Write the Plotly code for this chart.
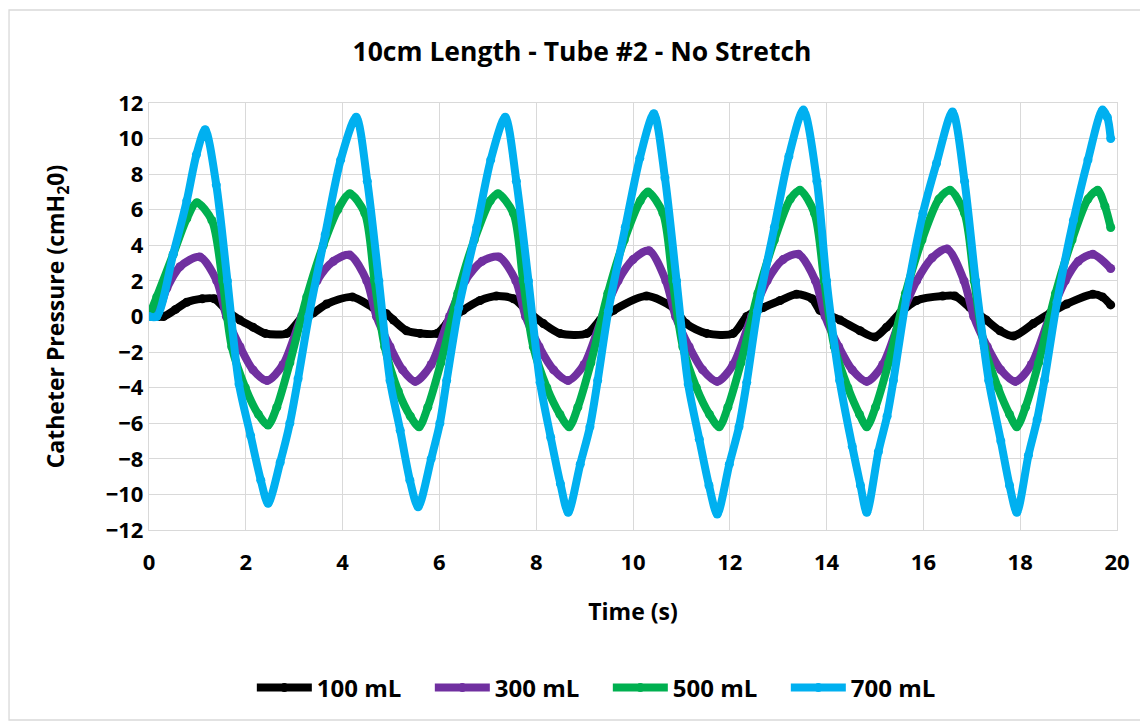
import plotly.graph_objects as go

# ---- data ----
series_names = ["100 mL", "300 mL", "500 mL", "700 mL"]
series_colors = ["#000000", "#7030A0", "#00B050", "#00B0F0"]

t_100 = [0.00, 0.30, 0.55, 0.78, 1.10, 1.35, 1.60, 1.88, 2.15, 2.40, 2.85, 3.12, 3.40, 3.67, 4.20,
         4.63, 4.91, 5.05, 5.32, 5.60, 5.95, 6.15, 6.49, 6.84, 7.18, 7.53, 7.80, 8.15, 8.49, 9.05,
         9.32, 9.60, 10.28, 10.83, 11.10, 11.52, 12.07, 12.35, 12.69, 13.04, 13.38, 13.70, 13.86,
         14.28, 14.69, 15.00, 15.24, 15.52, 15.86, 16.40, 16.65, 16.96, 17.30, 17.58, 17.86, 18.27,
         18.62, 18.96, 19.50, 19.70, 19.87]
p_100 = [0.0, 0.0, 0.4, 0.8, 1.0, 1.0, 0.35, -0.2, -0.6, -0.95, -0.95, -0.2, 0.2, 0.7, 1.1,
         0.5, 0.15, -0.2, -0.8, -0.95, -0.95, -0.4, 0.35, 0.9, 1.15, 1.0, 0.35, -0.4, -0.95, -0.95,
         -0.2, 0.35, 1.15, 0.5, -0.4, -0.95, -0.95, 0.0, 0.5, 0.9, 1.25, 1.0, 0.35,
         -0.2, -0.8, -1.15, -0.6, 0.2, 0.9, 1.15, 1.15, 0.5, -0.2, -0.8, -1.1, -0.4,
         0.2, 0.7, 1.25, 1.1, 0.65]

t_300 = [0.00, 0.16, 0.37, 0.64, 1.05, 1.40, 1.60, 1.88, 2.15, 2.44, 2.77, 3.15, 3.47, 3.81, 4.15,
         4.50, 4.70, 4.98, 5.24, 5.50, 5.83, 6.21, 6.53, 6.88, 7.23, 7.58, 7.78, 8.06, 8.36, 8.66,
         8.99, 9.37, 9.69, 10.00, 10.33, 10.68, 10.88, 11.16, 11.44, 11.74, 12.07, 12.45, 12.77,
         13.10, 13.42, 13.77, 13.97, 14.25, 14.53, 14.83, 15.16, 15.54, 15.86, 16.18, 16.49, 16.84,
         17.04, 17.32, 17.60, 17.90, 18.23, 18.61, 18.93, 19.20, 19.50, 19.87]
p_300 = [0.0, 0.1, 1.6, 2.8, 3.35, 2.0, 0.0, -1.7, -3.0, -3.6, -2.7, 0.0, 2.0, 3.1, 3.45,
         2.0, 0.0, -1.7, -3.0, -3.65, -2.7, 0.0, 2.0, 3.1, 3.35, 2.0, 0.0, -1.7, -3.0, -3.6,
         -2.7, 0.0, 2.0, 3.2, 3.7, 2.0, 0.0, -1.7, -3.0, -3.65, -2.7, 0.0, 2.0,
         3.2, 3.5, 2.0, 0.0, -1.7, -3.0, -3.65, -2.7, 0.0, 2.0, 3.3, 3.8, 2.0,
         0.0, -1.7, -3.0, -3.65, -2.7, 0.0, 2.0, 3.1, 3.5, 2.7]

t_500 = [0.00, 0.16, 0.50, 0.78, 0.99, 1.30, 1.52, 1.71, 1.99, 2.26, 2.46, 2.64, 2.91, 3.26, 3.60,
         3.90, 4.15, 4.46, 4.66, 4.87, 5.15, 5.40, 5.58, 5.76, 6.03, 6.38, 6.72, 7.05, 7.21, 7.53,
         7.73, 7.94, 8.22, 8.49, 8.68, 8.86, 9.13, 9.48, 9.82, 10.15, 10.31, 10.62, 10.82, 11.03,
         11.31, 11.58, 11.78, 11.96, 12.23, 12.58, 12.92, 13.25, 13.45, 13.75, 13.95, 14.16, 14.44,
         14.68, 14.83, 15.01, 15.28, 15.63, 15.97, 16.32, 16.55, 16.85, 17.05, 17.26, 17.54, 17.78,
         17.93, 18.11, 18.38, 18.73, 19.07, 19.40, 19.60, 19.75, 19.87]
p_500 = [0.0, 1.1, 3.5, 5.5, 6.4, 5.4, 2.0, -1.7, -4.0, -5.5, -6.1, -5.1, -2.6, 1.1, 4.0,
         6.0, 6.9, 5.8, 2.0, -1.7, -4.2, -5.6, -6.2, -5.1, -2.6, 1.3, 4.3, 6.5, 6.9, 5.8,
         2.0, -1.7, -4.0, -5.5, -6.2, -5.1, -2.6, 1.3, 4.3, 6.5, 7.0, 5.8, 2.0, -1.7,
         -4.0, -5.5, -6.2, -5.1, -2.6, 1.3, 4.3, 6.6, 7.1, 5.8, 2.0, -1.7, -4.0,
         -5.5, -6.2, -5.1, -2.6, 1.3, 4.3, 6.6, 7.1, 5.8, 2.0, -1.7, -4.0, -5.5,
         -6.2, -5.1, -2.6, 1.3, 4.3, 6.6, 7.1, 6.2, 5.0]

t_700 = [0.00, 0.16, 0.50, 0.78, 0.98, 1.16, 1.39, 1.62, 1.86, 2.10, 2.31, 2.46, 2.71, 2.91, 3.08,
         3.30, 3.64, 3.96, 4.28, 4.51, 4.75, 4.98, 5.19, 5.39, 5.56, 5.83, 6.01, 6.15, 6.40, 6.77,
         7.06, 7.36, 7.59, 7.84, 8.08, 8.30, 8.50, 8.66, 8.91, 9.11, 9.27, 9.49, 9.84, 10.14,
         10.43, 10.66, 10.90, 11.14, 11.37, 11.57, 11.74, 11.99, 12.19, 12.35, 12.57, 12.92, 13.22,
         13.52, 13.80, 14.00, 14.27, 14.53, 14.70, 14.83, 15.07, 15.25, 15.38, 15.65, 15.99, 16.27,
         16.60, 16.85, 17.08, 17.35, 17.60, 17.78, 17.93, 18.17, 18.35, 18.50, 18.76, 19.10, 19.40,
         19.70, 19.80, 19.87]
p_700 = [0.0, 0.0, 3.5, 6.5, 9.1, 10.5, 7.4, 2.0, -3.8, -6.7, -9.2, -10.5, -8.2, -6.0, -3.5,
         0.0, 4.6, 8.8, 11.2, 7.6, 2.0, -3.6, -6.4, -9.2, -10.7, -8.0, -6.0, -3.6, 0.5, 5.0,
         8.8, 11.2, 7.6, 2.0, -3.7, -6.8, -9.4, -11.0, -8.3, -6.2, -3.6, 0.3, 5.0, 8.9,
         11.4, 7.8, 2.0, -3.8, -6.9, -9.5, -11.1, -8.3, -6.2, -3.7, 0.3, 5.0, 9.0,
         11.6, 7.6, 2.0, -3.6, -7.3, -9.5, -11.0, -7.6, -5.6, -3.6, 1.1, 5.8, 8.6,
         11.5, 7.6, 2.0, -3.6, -7.0, -9.5, -11.0, -7.8, -5.8, -3.6, 0.8, 5.4, 8.8,
         11.6, 11.2, 10.0]

x_ticks = [0, 2, 4, 6, 8, 10, 12, 14, 16, 18, 20]
y_ticks = [-12, -10, -8, -6, -4, -2, 0, 2, 4, 6, 8, 10, 12]

title_text = "10cm Length - Tube #2 - No Stretch"
x_title = "Time (s)"
y_title = "Catheter Pressure (cmH<sub>2</sub>0)"

# ---- figure ----
FONT = "Open Sans"
BLACK = "#000000"
fig = go.Figure()
for name, color, t, p in zip(series_names, series_colors,
                             [t_100, t_300, t_500, t_700],
                             [p_100, p_300, p_500, p_700]):
    fig.add_trace(go.Scatter(
        x=t, y=p, name=name, mode="lines+markers",
        line=dict(color=color, width=8, shape="spline", smoothing=0.8),
        marker=dict(color=color, size=9),
    ))

axis_common = dict(
    showgrid=True, gridcolor="#d9d9d9", gridwidth=1.3,
    showline=True, linecolor="#d9d9d9", linewidth=1.3, mirror=True,
    zeroline=False, ticks="",
    tickfont=dict(family=FONT, size=22, color=BLACK, weight="bold"),
)

fig.update_xaxes(range=[0, 20], tickvals=x_ticks, ticklabelstandoff=12,
                 title=dict(text=x_title, font=dict(family=FONT, size=23, color=BLACK, weight="bold"), standoff=29),
                 **axis_common)
fig.update_yaxes(range=[-12, 12], tickvals=y_ticks,
                 title=dict(text=y_title, font=dict(family=FONT, size=23, color=BLACK, weight="bold"), standoff=34),
                 **axis_common)

fig.update_layout(
    width=1148, height=721,
    margin=dict(l=141, r=39, t=95, b=199),
    paper_bgcolor="white", plot_bgcolor="white",
    title=dict(text=title_text, x=0.5, xanchor="center", y=0.939, yanchor="middle",
               font=dict(family=FONT, size=26.5, color=BLACK, weight="bold")),
    showlegend=True,
    legend=dict(orientation="h", x=0.474, xanchor="center", y=-0.37, yanchor="middle",
                font=dict(family=FONT, size=24, color=BLACK, weight="bold"),
                itemwidth=55, entrywidth=108, tracegroupgap=0),
    shapes=[dict(type="rect", xref="paper", yref="paper",
                 x0=-0.1446, x1=1.031, y0=-0.445, y1=1.2178,
                 line=dict(color="#d9d9d9", width=1.3), fillcolor="rgba(0,0,0,0)", layer="below")],
)

fig.write_html("out.html")
